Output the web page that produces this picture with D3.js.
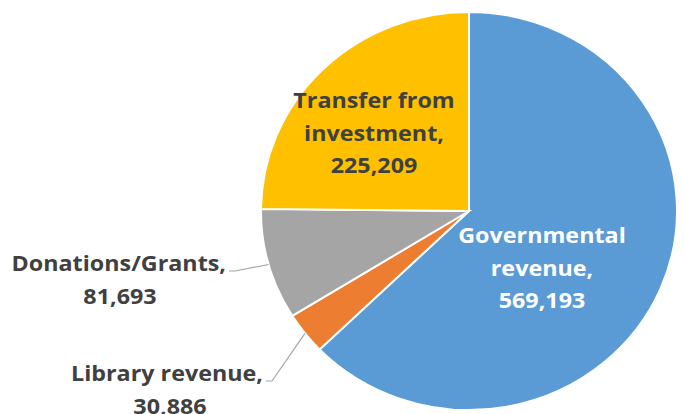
<!DOCTYPE html>
<html>
<head>
<meta charset="utf-8">
<script src="https://cdn.jsdelivr.net/npm/d3@7"></script>
<style>
  body { margin: 0; background: #fff; }
  svg text { font-family: "Open Sans", Lato, sans-serif; font-weight: bold; }
</style>
</head>
<body>
<svg id="chart" width="684" height="414"></svg>
<script>
// revenue sources, clockwise from 12 o'clock
var names  = ["Governmental revenue", "Library revenue", "Donations/Grants", "Transfer from investment"];
var values = [569193, 30886, 81693, 225209];
var colors = ["#5b9bd5", "#ed7d31", "#a5a5a5", "#ffc000"];

// label text lines per slice
var labelLines = [
    ["Governmental", "revenue,", "569,193"],
    ["Library revenue,", "30,886"],
    ["Donations/Grants,", "81,693"],
    ["Transfer from", "investment,", "225,209"]
];

var cx = 469, cy = 211,
    ry = 199, rx = 208,   // picture is a bit stretched sideways
    stretch = rx / ry,
    lineH = 32.5;

var svg = d3.select("#chart");

var pie = d3.pie().sort(null).value(function (d) { return d; });
var arcs = pie(values);

var arc = d3.arc().innerRadius(0).outerRadius(ry);

// pie, squeezed into an ellipse
var g = svg.append("g")
    .attr("transform", "translate(" + cx + "," + cy + ") scale(" + stretch + ",1)");

g.selectAll("path")
    .data(arcs)
    .enter()
    .append("path")
    .attr("d", arc)
    .attr("fill", function (d, i) { return colors[i]; })
    .attr("stroke", "#fff")
    .attr("stroke-width", 2)
    .attr("vector-effect", "non-scaling-stroke");

// point on the rim for a slice (middle angle), in page coords
function rim(d, k) {
    var a = (d.startAngle + d.endAngle) / 2;
    return [cx + Math.sin(a) * rx * k, cy - Math.cos(a) * ry * k];
}

// label anchors: inside = centred block, outside = right-aligned first line + leader
var labelInfo = [
    {inside: true,  x: 542, y: 243, fill: "#fff"},
    {inside: false, x: 263, y: 381, fill: "#404040", valX: 170},
    {inside: false, x: 226, y: 271, fill: "#404040", valX: 120},
    {inside: true,  x: 374, y: 108, fill: "#404040"}
];

var labels = svg.append("g").attr("class", "labels");

arcs.forEach(function (d, i) {
    var info = labelInfo[i];
    var lines = labelLines[i];
    var t = labels.append("g");
    lines.forEach(function (s, j) {
        var x = info.x, anchor = "middle";
        if (!info.inside) {
            if (j == 0) { anchor = "end"; }
            else { x = info.valX; }
        }
        t.append("text")
            .attr("transform", "translate(" + x + "," + (info.y + j * lineH) + ") scale(1.06,1)")
            .attr("text-anchor", anchor)
            .attr("font-size", "22px")
            .attr("fill", info.fill)
            .text(s);
    });

    if (!info.inside) {
        var p = rim(d, 1.0);
        var start = [info.x + 3, info.y];
        var mid = [info.x + 9, info.y];
        labels.append("path")
            .attr("d", "M" + start + "L" + mid + "L" + p)
            .attr("fill", "none")
            .attr("stroke", "#a6a6a6")
            .attr("stroke-width", 1.2);
    }
});
</script>
</body>
</html>
